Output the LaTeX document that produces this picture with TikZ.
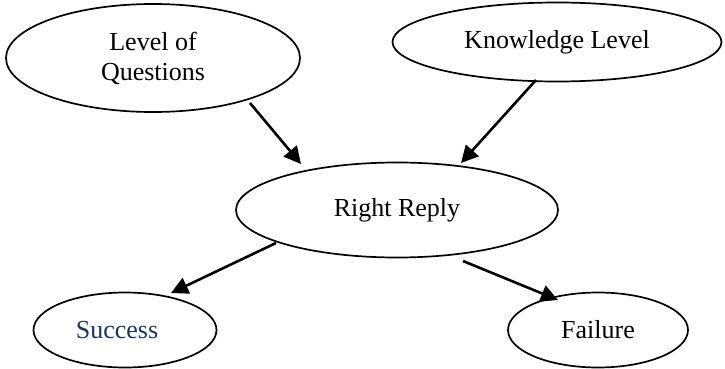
\documentclass[tikz,border=0pt]{standalone}
\usepackage{fontspec}
\setmainfont{Liberation Serif}
\usetikzlibrary{shapes.geometric,arrows.meta}
\definecolor{succblue}{RGB}{23,54,93}
\begin{document}
\begin{tikzpicture}[x=1pt,y=-1pt,
  ell/.style={ellipse,draw,line width=1.7pt,inner sep=0pt,align=center,
    font=\fontsize{26}{30}\selectfont},
  arr/.style={line width=2.6pt,-{Triangle[length=17pt,width=17pt]}}]
\useasboundingbox (0,0) rectangle (725,369);
\node[ell,minimum width=294pt,minimum height=108pt] (lq) at (153,58) {Level of\\Questions};
\node[ell,minimum width=329pt,minimum height=79pt] (kl) at (557,42) {Knowledge Level};
\node[ell,minimum width=322pt,minimum height=95pt] (rr) at (397,210) {Right Reply};
\node[ell,minimum width=183pt,minimum height=75pt,text=succblue] (su) at (125,330) {Success\hspace{16pt}};
\node[ell,minimum width=180pt,minimum height=75pt] (fa) at (598,330) {Failure};
\coordinate (a1s) at (250,103);
\coordinate (a1e) at (301,164);
\coordinate (a2s) at (536,80);
\coordinate (a2e) at (461,163);
\coordinate (a3s) at (276,243);
\coordinate (a3e) at (171,293);
\coordinate (a4s) at (463,261);
\coordinate (a4e) at (558,300);
\draw[arr] (a1s) -- (a1e);
\draw[arr] (a2s) -- (a2e);
\draw[arr] (a3s) -- (a3e);
\draw[arr] (a4s) -- (a4e);
\end{tikzpicture}
\end{document}
